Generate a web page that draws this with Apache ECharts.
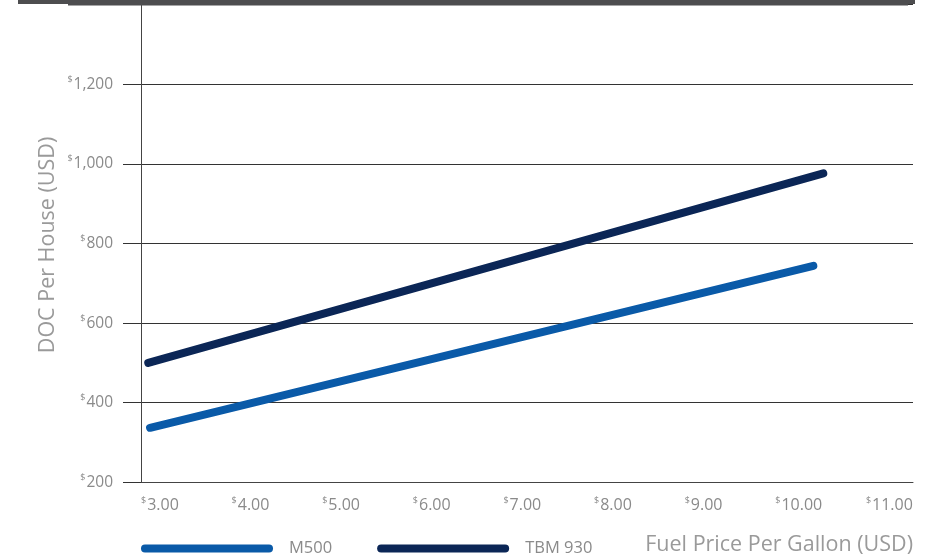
<!DOCTYPE html>
<html><head><meta charset="utf-8">
<script src="https://cdn.jsdelivr.net/npm/echarts@6/dist/echarts.min.js"></script>
<style>html,body{margin:0;padding:0;background:#fff}#c{width:942px;height:560px}</style>
</head><body><div id="c"></div>
<script>
const seriesNames = ['M500', 'TBM 930'];
const m500Fuel = [3.10, 10.42];
const m500Doc = [337, 744];
const tbmFuel = [3.08, 10.53];
const tbmDoc = [500, 976];
const xTicks = [3, 4, 5, 6, 7, 8, 9, 10, 11];
const yTicks = [200, 400, 600, 800, 1000, 1200];
const xName = 'Fuel Price Per Gallon (USD)';
const yName = 'DOC Per House (USD)';
const colors = ['#0a5aa8', '#0b2656'];

const chart = echarts.init(document.getElementById('c'), null, {renderer: 'canvas'});
const grey = '#8a8a8a';
const font = '"Open Sans", Roboto, sans-serif';
const pill = 'path://M4,0 H128 A4,4 0 0 1 128,8 H4 A4,4 0 0 1 4,0 Z';
const richFor = (size) => ({
  s: {fontSize: 9, color: grey, fontFamily: font, verticalAlign: 'top', lineHeight: 11, padding: [0, 1, 0, 0]},
  n: {fontSize: size, color: grey, fontFamily: font, lineHeight: 19}
});
chart.setOption({
  backgroundColor: '#fff',
  animation: false,
  grid: {left: 141, right: 29, top: 4.7, bottom: 77.7},
  xAxis: {
    type: 'value', min: 3, max: 11.52, interval: 1,
    axisLine: {show: true, lineStyle: {color: '#444', width: 1}},
    axisTick: {show: false},
    splitLine: {show: false},
    axisLabel: {
      showMaxLabel: false, align: 'left', margin: 14, fontSize: 16, fontFamily: font, color: grey,
      formatter: v => xTicks.includes(v) ? '{s|$}{n|' + v.toFixed(2) + '}' : '',
      rich: richFor(16)
    }
  },
  yAxis: {
    type: 'value', min: 200, max: 1400, interval: 200,
    axisLine: {show: true, lineStyle: {color: '#444', width: 1}},
    axisTick: {show: true, length: 18, lineStyle: {color: '#333'}},
    splitLine: {show: true, lineStyle: {color: '#333', width: 1}},
    axisLabel: {
      showMaxLabel: false, margin: 28, fontSize: 15.5, fontFamily: font, color: grey,
      formatter: v => yTicks.includes(v) ? '{s|$}{n|' + v.toLocaleString('en-US') + '}' : '',
      rich: richFor(15.5)
    }
  },
  legend: {
    left: 136, top: 535, itemWidth: 132, itemHeight: 8, itemGap: 45,
    icon: pill,
    textStyle: {color: grey, fontSize: 16.5, fontFamily: font, padding: [0, 0, 0, 11]},
    data: seriesNames
  },
  graphic: [
    {type: 'rect', shape: {x: 18, y: 0, width: 897, height: 4}, style: {fill: '#4d4d4f'}, z: 100},
    {type: 'rect', shape: {x: 68, y: 0, width: 840, height: 5.5}, style: {fill: '#4d4d4f'}, z: 100},
    {type: 'text', x: 913, y: 545, style: {text: xName, fill: '#9a9a9a', font: '21.5px ' + font, textAlign: 'right', textVerticalAlign: 'middle'}},
    {type: 'text', x: 48, y: 245, rotation: Math.PI / 2, style: {text: yName, fill: '#9a9a9a', font: '21.5px ' + font, textAlign: 'center', textVerticalAlign: 'middle'}}
  ],
  series: [
    {name: seriesNames[0], type: 'line', showSymbol: false, symbol: 'none', color: colors[0],
     lineStyle: {width: 8, cap: 'round', color: colors[0]},
     data: m500Fuel.map((x, i) => [x, m500Doc[i]])},
    {name: seriesNames[1], type: 'line', showSymbol: false, symbol: 'none', color: colors[1],
     lineStyle: {width: 8, cap: 'round', color: colors[1]},
     data: tbmFuel.map((x, i) => [x, tbmDoc[i]])}
  ]
});
</script></body></html>
